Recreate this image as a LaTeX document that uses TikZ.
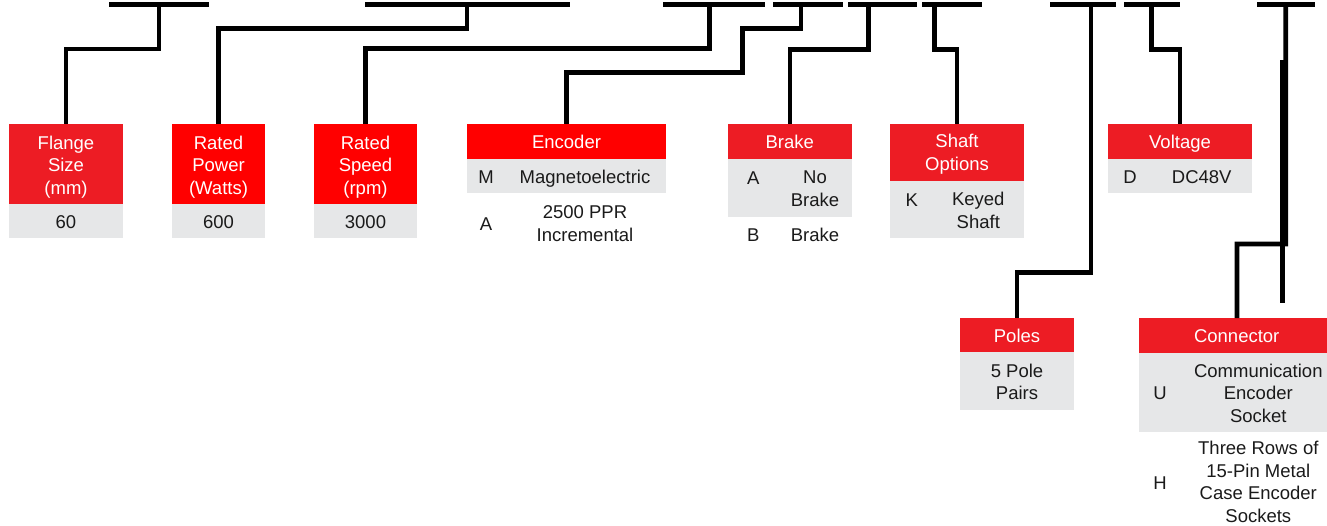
\documentclass[tikz,border=0pt]{standalone}
\usepackage{fontspec}
\setmainfont{Liberation Sans}
\definecolor{redA}{HTML}{ED1C24}
\definecolor{redB}{HTML}{FF0000}
\definecolor{panel}{HTML}{E6E7E8}
\definecolor{ink}{HTML}{1A1A1A}
\newcommand{\dfont}{\fontsize{18.5}{22.6}\selectfont}
\begin{document}
\begin{tikzpicture}[x=1pt,y=-1pt,
  box/.style={rectangle, inner sep=0pt, outer sep=0pt, draw=none, anchor=north west},
  barn/.style={rectangle, inner sep=0pt, outer sep=0pt, draw=none, fill=black, minimum height=5pt},
  one/.style={inner sep=0pt, font=\dfont, text height=13.3pt, text depth=0pt, anchor=center},
  ml/.style={inner sep=0pt, font=\dfont, align=center, anchor=center},
  hd/.style={text=white},
  bd/.style={text=ink},
  conn/.style={line width=4.8pt, draw=black, line join=miter}]
\useasboundingbox (0,0) rectangle (1327,525);

% ---------- boxes ----------
\node[box, fill=redA, minimum width=114pt, minimum height=80pt] (fl) at (9,124) {};
\node[box, fill=panel, minimum width=114pt, minimum height=34.3pt] (flv) at (9,204) {};
\node[box, fill=redB, minimum width=93pt, minimum height=80pt] (rp) at (172,124) {};
\node[box, fill=panel, minimum width=93pt, minimum height=34.3pt] (rpv) at (172,204) {};
\node[box, fill=redB, minimum width=103pt, minimum height=80pt] (rs) at (314,124) {};
\node[box, fill=panel, minimum width=103pt, minimum height=34.3pt] (rsv) at (314,204) {};
\node[box, fill=redB, minimum width=199pt, minimum height=35pt] (en) at (467,124) {};
\node[box, fill=panel, minimum width=199pt, minimum height=34.3pt] (env) at (467,159) {};
\node[box, fill=redA, minimum width=123.4pt, minimum height=35pt] (br) at (728.3,124) {};
\node[box, fill=panel, minimum width=123.4pt, minimum height=57.7pt] (brv) at (728.3,159) {};
\node[box, fill=redA, minimum width=134pt, minimum height=57.3pt] (sh) at (890,124) {};
\node[box, fill=panel, minimum width=134pt, minimum height=57pt] (shv) at (890,181.3) {};
\node[box, fill=redA, minimum width=143.4pt, minimum height=35pt] (vo) at (1108.3,124) {};
\node[box, fill=panel, minimum width=143.4pt, minimum height=34.3pt] (vov) at (1108.3,159) {};
\node[box, fill=redA, minimum width=114pt, minimum height=34pt] (po) at (960,318) {};
\node[box, fill=panel, minimum width=114pt, minimum height=57.7pt] (pov) at (960,352) {};
\node[box, fill=redA, minimum width=188pt, minimum height=34.7pt] (cn) at (1139,318) {};
\node[box, fill=panel, minimum width=188pt, minimum height=79.3pt] (cnv) at (1139,352.7) {};

% ---------- top bars ----------
\node[barn, minimum width=100pt] (t1) at (159,4) {};
\node[barn, minimum width=205pt] (t2) at (467.5,4) {};
\node[barn, minimum width=102pt] (t3) at (714,4) {};
\node[barn, minimum width=70.3pt] (t4) at (807.8,4) {};
\node[barn, minimum width=69pt] (t5) at (882.5,4) {};
\node[barn, minimum width=60.6pt] (t6) at (952,4) {};
\node[barn, minimum width=66pt] (t7) at (1083,4) {};
\node[barn, minimum width=56pt] (t8) at (1152,4) {};
\node[barn, minimum width=58.3pt] (t9) at (1285.8,4) {};

% stem tops on the bars
\coordinate (s2) at (467,4);
\coordinate (s3) at (709.5,4);
\coordinate (s4) at (801,4);
\coordinate (s5) at (868.3,4);
\coordinate (s6) at (934.8,4);
\coordinate (s7) at (1091,4);
\coordinate (s8) at (1151.7,4);
\coordinate (cnt) at (1237,318);
\coordinate (xa) at (1282.5,60);
\coordinate (xb) at (1282.5,303);

% ---------- connectors ----------
\draw[conn] (t1.center) -- (159,49) -| (fl.north);
\draw[conn] (s2) -- (467,28.5) -| (rp.north);
\draw[conn] (s3) -- (709.5,48.5) -| (rs.north);
\draw[conn] (s4) -- (801,28.5) -| (742.3,72.8) -| (en.north);
\draw[conn] (s5) -- (868.3,49.5) -| (br.north);
\draw[conn] (s6) -- (934.8,49.3) -| (sh.north);
\draw[conn] (s7) -- (1091,272.8) -| (po.north);
\draw[conn] (s8) -- (1151.7,49.3) -| (vo.north);
\draw[conn] (t9.center) -- (1285.7,244) -| (cnt);
\draw[conn] (xa) -- (xb);

% ---------- texts ----------
\node[ml, hd] (flt) at (66,167) {Flange\\Size\\(mm)};
\node[one, bd] (flx) at (66,221.5) {60};
\node[ml, hd] (rpt) at (218.5,167) {Rated\\Power\\(Watts)};
\node[one, bd] (rpx) at (218.5,221.5) {600};
\node[ml, hd] (rst) at (365.5,167) {Rated\\Speed\\(rpm)};
\node[one, bd] (rsx) at (365.5,221.5) {3000};

\node[one, hd] (ent) at (566.5,141.7) {Encoder};
\node[one, bd] (enk1) at (486,176.7) {M};
\node[one, bd] (end1) at (585,176.7) {Magnetoelectric};
\node[one, bd] (enk2) at (486,223.5) {A};
\node[ml, bd] (end2) at (585,223.5) {2500 PPR\\Incremental};

\node[one, hd] (brt) at (789.7,141.7) {Brake};
\node[one, bd] (brk1) at (753.3,178) {A};
\node[ml, bd] (brd1) at (815,189) {No\\Brake};
\node[one, bd] (brk2) at (753.3,234.5) {B};
\node[one, bd] (brd2) at (815,234.5) {Brake};

\node[ml, hd] (sht) at (957,154.5) {Shaft\\Options};
\node[one, bd] (shk) at (911.7,200) {K};
\node[ml, bd] (shd) at (978.3,210.5) {Keyed\\Shaft};

\node[one, hd] (vot) at (1180,141.7) {Voltage};
\node[one, bd] (vok) at (1130,177.3) {D};
\node[one, bd] (vod) at (1201.7,177.3) {DC48V};

\node[one, hd] (pot) at (1017,335.7) {Poles};
\node[ml, bd] (pod) at (1017,381.7) {5 Pole\\Pairs};

\node[one, hd] (cnt2) at (1236.7,335.7) {Connector};
\node[one, bd] (cnk1) at (1160,393.3) {U};
\node[ml, bd] (cnd1) at (1258.3,393) {Communication\\Encoder\\Socket};
\node[one, bd] (cnk2) at (1160,483) {H};
\node[ml, bd] (cnd2) at (1258.3,482) {Three Rows of\\15-Pin Metal\\Case Encoder\\Sockets};
\end{tikzpicture}
\end{document}
